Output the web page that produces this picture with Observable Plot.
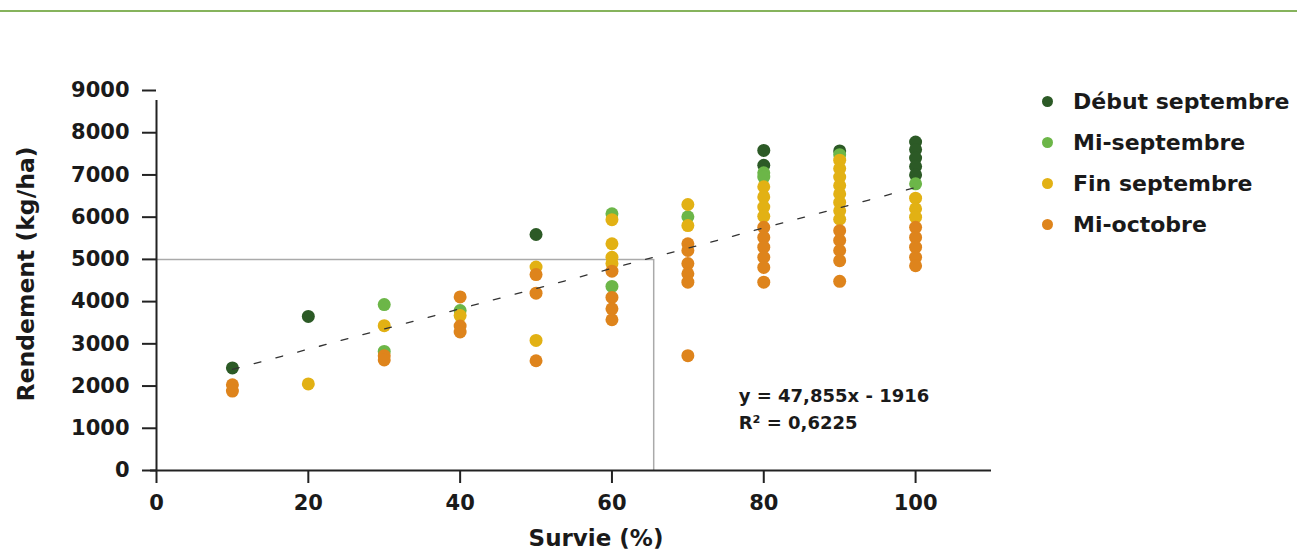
<!DOCTYPE html>
<html><head><meta charset="utf-8">
<script src="https://cdn.jsdelivr.net/npm/d3@7"></script>
<script src="https://cdn.jsdelivr.net/npm/@observablehq/plot@0.6"></script>
<style>
body{margin:0;background:#fff;font-family:"DejaVu Sans",sans-serif;}
#wrap{position:relative;width:1297px;height:550px;overflow:hidden}
#topline{position:absolute;left:0;top:10px;width:1297px;height:2px;background:#86b35c}
#chart{position:absolute;left:0;top:0}
#legend{position:absolute;left:1042px;top:80.5px}
.item{display:flex;align-items:center;height:41px;font-weight:bold;font-size:22px;color:#1a1a1a;white-space:nowrap}
.sw{width:11px;height:11px;border-radius:50%;margin-right:20px;flex:none}
#ytitle{position:absolute;left:27px;top:274px;transform:translate(-50%,-50%) rotate(-90deg);font-weight:bold;font-size:23.5px;color:#1a1a1a;white-space:nowrap;line-height:1}
</style></head><body>
<div id="wrap"><div id="topline"></div><div id="chart"></div><div id="ytitle"></div><div id="legend"></div></div>
<script>
// Series
const series = ["Début septembre", "Mi-septembre", "Fin septembre", "Mi-octobre"];
const colors = ["#2c5a26", "#6cb648", "#e2b114", "#de841c"];

// Début septembre
const survieDebut    = [10,   20,   50,   80,   80,   90,   100,  100,  100,  100,  100];
const rendementDebut = [2430, 3650, 5590, 7580, 7230, 7570, 7780, 7600, 7400, 7200, 7000];

// Mi-septembre
const survieMiSept    = [30,   30,   40,   60,   60,   70,   80,   80,   90,   100];
const rendementMiSept = [3930, 2820, 3790, 6080, 4360, 6010, 7050, 6950, 7480, 6790];

// Fin septembre
const survieFinSept    = [20,   30,   40,   50,   50,   60,   60,   60,   60,   70,   70,
                          80,   80,   80,   80,   90,   90,   90,   90,   90,   90,   90,   90,
                          100,  100,  100];
const rendementFinSept = [2050, 3430, 3670, 4820, 3080, 5940, 5370, 5050, 4900, 6300, 5800,
                          6720, 6480, 6240, 6020, 7350, 7150, 6950, 6750, 6550, 6350, 6150, 5950,
                          6450, 6200, 6000];

// Mi-octobre
const survieMiOct    = [10,   10,   30,   30,   40,   40,   40,   50,   50,   50,
                        60,   60,   60,   60,   70,   70,   70,   70,   70,   70,
                        80,   80,   80,   80,   80,   80,   90,   90,   90,   90,   90,
                        100,  100,  100,  100,  100];
const rendementMiOct = [2030, 1880, 2720, 2620, 4110, 3420, 3280, 4640, 4200, 2600,
                        4720, 4100, 3830, 3570, 5370, 5210, 4900, 4660, 4460, 2720,
                        5760, 5520, 5290, 5050, 4810, 4460, 5680, 5450, 5210, 4970, 4480,
                        5760, 5520, 5290, 5050, 4850];

// Axis ticks and titles
const xTicks = [0, 20, 40, 60, 80, 100];
const yTicks = [0, 1000, 2000, 3000, 4000, 5000, 6000, 7000, 8000, 9000];
const xTitle = "Survie (%)";
const yTitle = "Rendement (kg/ha)";

// Regression & threshold
const pente = 47.855;
const ordonnee = 1916;
const equationTexte = "y = 47,855x - 1916";
const r2Texte = "R² = 0,6225";
const seuilSurvie = 65.5;
const seuilRendement = 5000;

const xs = [survieDebut, survieMiSept, survieFinSept, survieMiOct];
const ys = [rendementDebut, rendementMiSept, rendementFinSept, rendementMiOct];
const data = [];
series.forEach((s, i) => xs[i].forEach((x, j) => data.push({serie: s, survie: x, rendement: ys[i][j]})));

const ext = d3.extent(data, d => d.survie);
const regression = ext.map(x => ({survie: x, rendement: pente * x + ordonnee}));

const font = "DejaVu Sans";
const chart = Plot.plot({
  width: 1010, height: 550,
  marginLeft: 156, marginRight: 19, marginTop: 90, marginBottom: 80,
  style: {fontFamily: font, fontSize: "21px", fontWeight: "bold", color: "#1a1a1a", background: "transparent"},
  x: {domain: [0, 110]},
  y: {domain: [0, 9000]},
  color: {domain: series, range: colors},
  marks: [
    Plot.ruleY([seuilRendement], {x1: 0, x2: seuilSurvie, stroke: "#aaaaaa", strokeWidth: 1.5}),
    Plot.ruleX([seuilSurvie], {y1: 0, y2: seuilRendement, stroke: "#aaaaaa", strokeWidth: 1.5}),
    Plot.dot(data, {x: "survie", y: "rendement", fill: "serie", r: 6.5, stroke: "none"}),
    Plot.line(regression, {x: "survie", y: "rendement", stroke: "#333", strokeWidth: 1.3, strokeDasharray: "7,15.5"}),
    Plot.ruleX([0], {y1: 0, y2: 9000, stroke: "#222", strokeWidth: 2, insetBottom: -10}),
    Plot.ruleY([0], {stroke: "#222", strokeWidth: 2, insetLeft: -6}),
    Plot.axisX({ticks: xTicks, tickSize: 13, tickPadding: 12, tickFormat: d => String(d), fontSize: 21, fontWeight: "bold", stroke: "#222", strokeWidth: 2, label: null}),
    Plot.axisY({ticks: yTicks, tickSize: 14, tickPadding: 13, tickFormat: d => String(d), fontSize: 21, fontWeight: "bold", stroke: "#222", strokeWidth: 2, label: null}),
    Plot.text([equationTexte + "\n" + r2Texte], {x: 76.7, y: 1504, text: d => d, textAnchor: "start", lineAnchor: "middle", lineHeight: 1.5, fontSize: 18, fontWeight: "bold", fill: "#1a1a1a"}),
    Plot.text([xTitle], {frameAnchor: "bottom", dx: 22, dy: 68, lineAnchor: "middle", fontSize: 23, fontWeight: "bold", fill: "#1a1a1a"})
  ]
});
document.getElementById("chart").appendChild(chart);
document.getElementById("ytitle").textContent = yTitle;

const legend = document.getElementById("legend");
series.forEach((s, i) => {
  const item = document.createElement("div");
  item.className = "item";
  const sw = document.createElement("span");
  sw.className = "sw";
  sw.style.background = colors[i];
  const t = document.createElement("span");
  t.textContent = s;
  item.appendChild(sw); item.appendChild(t);
  legend.appendChild(item);
});
</script>
</body></html>
